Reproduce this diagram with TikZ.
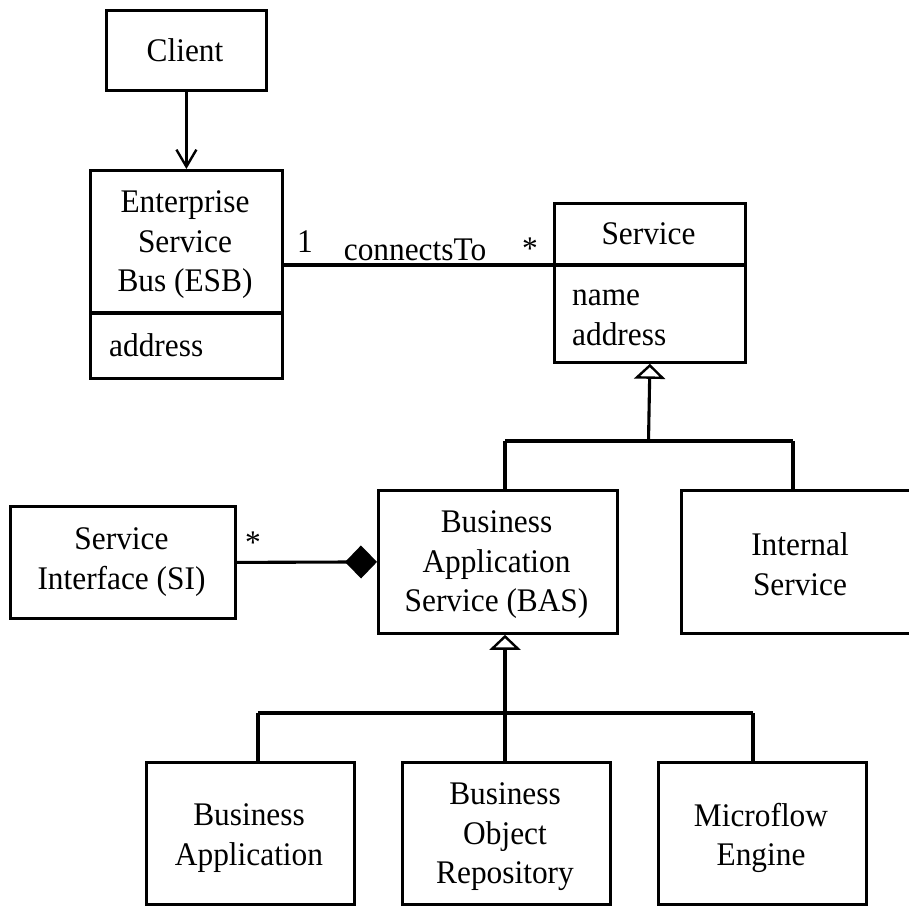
\documentclass[tikz,border=0pt]{standalone}
\usepackage{fontspec}
\setmainfont{Liberation Serif}[FakeStretch=0.95]
\usetikzlibrary{arrows.meta}
\begin{document}
\begin{tikzpicture}[x=1pt,y=-1pt,
  every node/.style={font=\fontsize{33}{39.5}\selectfont},
  box/.style={draw,line width=2.8pt,inner sep=0pt,anchor=north west},
  txt/.style={inner sep=0pt,align=center},
  cline/.style={draw,line width=3.1pt},
  gen/.style={cline,-{Triangle[open,length=15pt,width=31pt,line width=2.4pt]}},
  comp/.style={cline,-{Diamond[length=32pt,width=33pt]}},
  nav/.style={cline,-{Straight Barb[length=17pt,width=20pt,line width=2.4pt]}}]
\useasboundingbox (0,0) rectangle (909,905);
% Client
\node[box,minimum width=160pt,minimum height=80pt] (client) at (105,9) {};
\node[txt] (clientt) at (185,50) {Client};
% ESB
\node[box,minimum width=192pt,minimum height=208pt] (esb) at (89,169) {};
\node[txt] (esbt) at (185,245) {Enterprise\\Service\\Bus (ESB)};
\coordinate (esbdiv) at (89,313);
\draw[cline] (esbdiv) -- (esbdiv -| esb.east);
\node[anchor=base west,inner sep=0pt] (esba) at (109,356) {address};
% Service
\node[box,minimum width=191pt,minimum height=159pt] (svc) at (553,202) {};
\node[anchor=base,inner sep=0pt] (svct) at (648.5,244) {Service};
\coordinate (svcdiv) at (553,265);
\draw[cline] (svcdiv) -- (svcdiv -| svc.east);
\node[anchor=base west,inner sep=0pt] (svcn) at (572,305) {name};
\node[anchor=base west,inner sep=0pt] (svca) at (572,345) {address};
% BAS
\node[box,minimum width=239pt,minimum height=143pt] (bas) at (377,489) {};
\node[txt] (bast) at (496.5,565) {Business\\Application\\Service (BAS)};
% Internal Service
\node[box,minimum width=239pt,minimum height=143pt] (ins) at (680,489) {};
\node[txt] (inst) at (800,564) {Internal\\Service};
% Service Interface
\node[box,minimum width=225pt,minimum height=112pt] (si) at (9,505) {};
\node[txt] (sit) at (121.5,562) {Service\\Interface (SI)};
% bottom row
\node[box,minimum width=208pt,minimum height=142pt] (ba) at (145,761) {};
\node[txt] (bat) at (249,838) {Business\\Application};
\node[box,minimum width=208pt,minimum height=142pt] (bor) at (401,761) {};
\node[txt] (bort) at (505,837) {Business\\Object\\Repository};
\node[box,minimum width=208pt,minimum height=142pt] (me) at (657,761) {};
\node[txt] (met) at (761,838) {Microflow\\Engine};
% labels
\node[anchor=base west,inner sep=0pt] (m1) at (297,252) {1};
\node[anchor=base,inner sep=0pt] (assoc) at (415,260) {connectsTo};
\node[anchor=base,inner sep=0pt] (m2) at (530,259) {*};
\node[anchor=base,inner sep=0pt] (m3) at (253,553) {*};
% connectors
\draw[nav] (client.south) -- (esb.north);
\draw[cline] (esb.east |- svcdiv) -- (svcdiv);
\coordinate (g1) at (648.5,441);
\coordinate (g1L) at (505,441);
\coordinate (g1R) at (793,441);
\draw[gen] (g1) -- (svc.south);
\draw[cline] (g1L) -- (g1R);
\draw[cline] (g1L) -- (g1L |- bas.north);
\draw[cline] (g1R) -- (g1R |- ins.north);
\draw[comp] (si.east) -- (bas.west);
\coordinate (g2) at (505,713);
\coordinate (g2L) at (258,713);
\coordinate (g2R) at (753,713);
\draw[gen] (g2) -- (g2 |- bas.south);
\draw[cline] (g2L) -- (g2R);
\draw[cline] (g2L) -- (g2L |- ba.north);
\draw[cline] (g2) -- (g2 |- bor.north);
\draw[cline] (g2R) -- (g2R |- me.north);
\end{tikzpicture}
\end{document}
